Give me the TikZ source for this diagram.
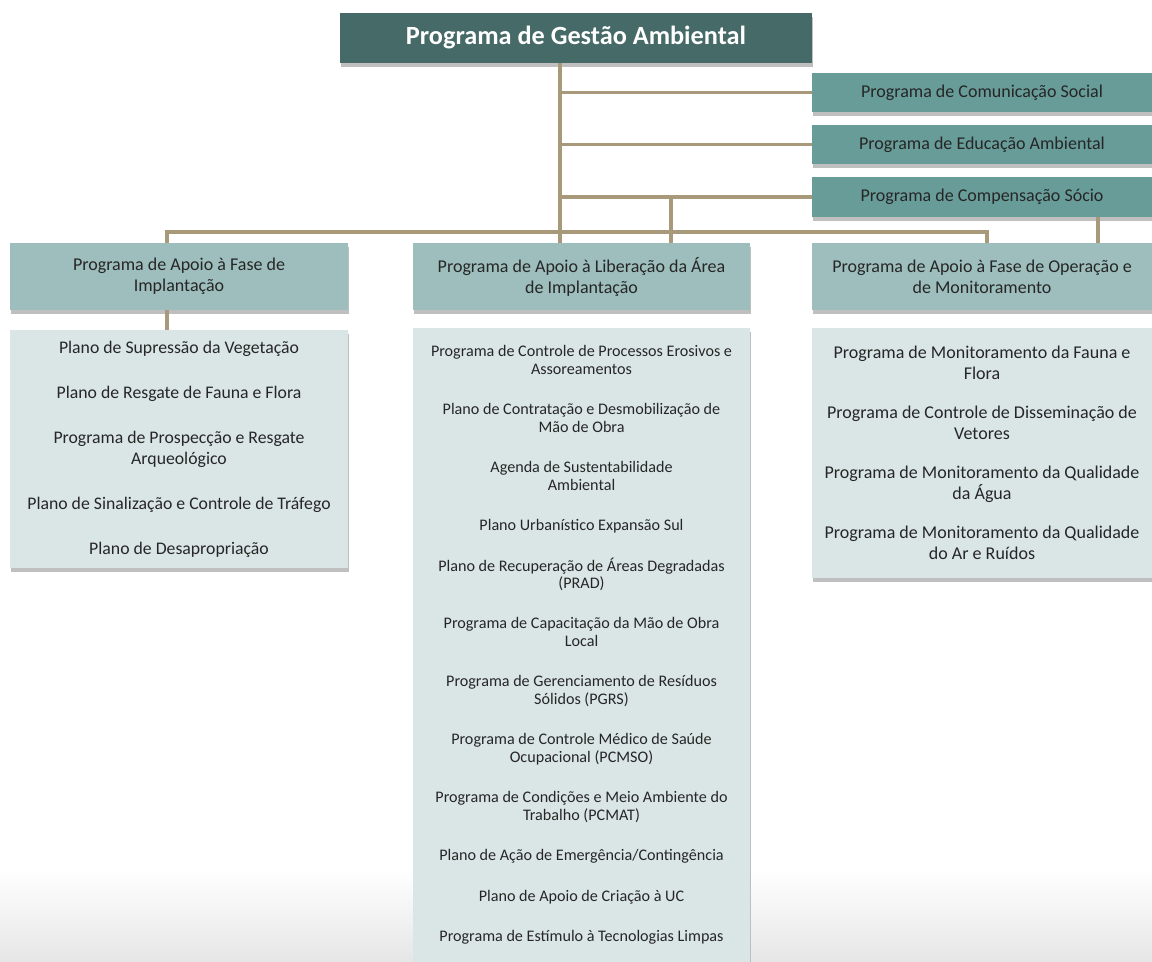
\documentclass[tikz,border=0pt]{standalone}
\usepackage{fontspec}
\setmainfont{Carlito}
\usetikzlibrary{shadows,positioning}

\definecolor{topteal}{RGB}{70,106,103}
\definecolor{subteal}{RGB}{104,156,152}
\definecolor{headteal}{RGB}{157,190,188}
\definecolor{bodyteal}{RGB}{218,230,229}
\definecolor{linktan}{RGB}{168,153,122}
\definecolor{txtgray}{RGB}{38,38,38}

\begin{document}
\begin{tikzpicture}[x=0.75pt, y=-0.75pt,
    box/.style={rectangle, inner sep=0pt, align=center, text=txtgray,
        drop shadow={shadow xshift=0.8pt, shadow yshift=-3.2pt, fill=black!25, opacity=1}},
    topbox/.style={box, fill=topteal, text=white, font=\fontsize{19.7}{22}\selectfont\bfseries,
        minimum width=354pt, minimum height=37.5pt},
    subbox/.style={box, fill=subteal, font=\fontsize{13.5}{15}\selectfont,
        minimum width=255pt, minimum height=29.5pt},
    headbox/.style={box, fill=headteal, font=\fontsize{13.5}{15.75}\selectfont,
        minimum width=253.5pt, minimum height=50.25pt},
    bodybox/.style={box, fill=bodyteal, minimum width=253.5pt},
    link/.style={draw=linktan, line width=2.6pt}
]
\useasboundingbox (0,0) rectangle (1152,962);

% screenshot fade at the bottom
\shade[top color=white, bottom color=black!10] (0,870) rectangle (1152,962);

% Top level
\node[topbox] (gestao) at (576,38) {Programa de Gestão Ambiental};

% Side programmes
\node[subbox] (comunicacao) at (982,92.5) {Programa de Comunicação Social};
\node[subbox] (educacao) at (982,144.5) {Programa de Educação Ambiental};
\node[subbox, minimum height=30pt] (compensacao) at (982,197) {Programa de Compensação Sócio};

% Phase headers
\node[headbox] (implantacao) at (179,276.5) {Programa de Apoio à Fase de\\Implantação};
\node[headbox, minimum width=252.75pt] (liberacao) at (581.5,276.5) {Programa de Apoio à Liberação da Área\\de Implantação};
\node[headbox, minimum width=255pt] (operacao) at (982,276.5) {Programa de Apoio à Fase de Operação e\\de Monitoramento};

% Phase contents
\node[bodybox, minimum height=178.5pt, font=\fontsize{13.3}{15.75}\selectfont] (implantlist) at (179,449) {
    Plano de Supressão da Vegetação\\[18pt]
    Plano de Resgate de Fauna e Flora\\[18pt]
    Programa de Prospecção e Resgate\\Arqueológico\\[18pt]
    Plano de Sinalização e Controle de Tráfego\\[18pt]
    Plano de Desapropriação
};
\node[bodybox, minimum width=252.75pt, minimum height=475.5pt, font=\fontsize{12.1}{13.1}\selectfont] (liberlist) at (581.5,645) {
    Programa de Controle de Processos Erosivos e\\Assoreamentos\\[17.25pt]
    Plano de Contratação e Desmobilização de\\Mão de Obra\\[17.25pt]
    Agenda de Sustentabilidade\\Ambiental\\[17.25pt]
    Plano Urbanístico Expansão Sul\\[17.25pt]
    Plano de Recuperação de Áreas Degradadas\\(PRAD)\\[17.25pt]
    Programa de Capacitação da Mão de Obra\\Local\\[17.25pt]
    Programa de Gerenciamento de Resíduos\\Sólidos (PGRS)\\[17.25pt]
    Programa de Controle Médico de Saúde\\Ocupacional (PCMSO)\\[17.25pt]
    Programa de Condições e Meio Ambiente do\\Trabalho (PCMAT)\\[17.25pt]
    Plano de Ação de Emergência/Contingência\\[17.25pt]
    Plano de Apoio de Criação à UC\\[17.25pt]
    Programa de Estímulo à Tecnologias Limpas
};
\node[bodybox, minimum width=255pt, minimum height=187.5pt, font=\fontsize{13.5}{15.4}\selectfont] (operlist) at (982,453) {
    Programa de Monitoramento da Fauna e\\Flora\\[14.2pt]
    Programa de Controle de Disseminação de\\Vetores\\[14.2pt]
    Programa de Monitoramento da Qualidade\\da Água\\[14.2pt]
    Programa de Monitoramento da Qualidade\\do Ar e Ruídos
};

% Connector points
\coordinate (trunk) at (560,232);
\coordinate (busL) at (167,232);
\coordinate (busR) at (987,232);
\coordinate (busM) at (671,232);
\coordinate (socio) at (1098,232);

% Connectors
\draw[link] (gestao.south -| trunk) -- (trunk |- liberacao.north);
\draw[link] (trunk |- comunicacao.west) -- (comunicacao.west);
\draw[link] (trunk |- educacao.west) -- (educacao.west);
\draw[link] (trunk |- compensacao.west) -- (compensacao.west);
\draw[link] (busM |- compensacao.west) -- (busM |- liberacao.north);
\draw[link] (busL |- implantacao.north) -- (busL) -- (busR) -- (busR |- operacao.north);
\draw[link] (compensacao.south -| socio) -- (socio |- operacao.north);
\draw[link] (busL |- implantacao.south) -- (busL |- implantlist.north);

\end{tikzpicture}
\end{document}
